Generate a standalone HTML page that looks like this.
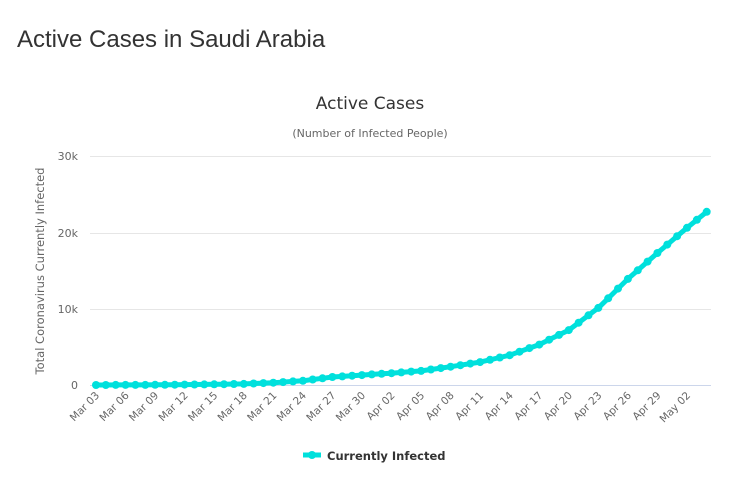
<!DOCTYPE html><html><head><style>
body{margin:0;background:#fff;width:731px;height:492px;overflow:hidden;font-family:"Liberation Sans",sans-serif}
h1{position:absolute;left:17px;top:26px;margin:0;font-weight:normal;font-size:24px;color:#333}
</style></head><body>
<h1>Active Cases in Saudi Arabia</h1>
<svg id="s" width="731" height="492" style="position:absolute;left:0;top:0;font-family:'DejaVu Sans',sans-serif">
<text x="370" y="109" text-anchor="middle" font-size="17" fill="#333">Active Cases</text>
<text x="370" y="137" text-anchor="middle" font-size="11" fill="#666">(Number of Infected People)</text>
<g stroke="#e6e6e6"><line x1="90" x2="711" y1="156.5" y2="156.5"/><line x1="90" x2="711" y1="233.5" y2="233.5"/><line x1="90" x2="711" y1="309.5" y2="309.5"/></g>
<line x1="90" x2="711" y1="385.5" y2="385.5" stroke="#ccd6eb"/>
<g font-size="11" fill="#666" text-anchor="end"><text x="78" y="160">30k</text><text x="78" y="237">20k</text><text x="78" y="313">10k</text><text x="78" y="389">0</text></g>
<text transform="translate(44,271) rotate(-90)" text-anchor="middle" font-size="11.5" fill="#666">Total Coronavirus Currently Infected</text>
<g id="lab" font-size="10.5" fill="#666"></g>
<polyline id="ln" fill="none" stroke="#00e0dc" stroke-width="5" stroke-linejoin="round"/>
<g id="dots" fill="#00e0dc"></g>
<line x1="303" x2="321" y1="455" y2="455" stroke="#00e0dc" stroke-width="5"/><circle cx="312" cy="455" r="4" fill="#00e0dc"/>
<text x="327" y="460" font-size="11.5" font-weight="bold" fill="#333">Currently Infected</text>
</svg>
<script>
var k=[[0,0],[6,20],[12,90],[15,150],[18,300],[21,550],[24,1050],[27,1300],[30,1550],[33,1850],[36,2400],[39,3000],[42,3900],[45,5300],[48,7200],[51,10100],[54,13900],[57,17300],[60,20600],[62,22700]];
function v(d){for(var i=0;i<k.length-1;i++)if(d<=k[i+1][0]){var a=k[i],b=k[i+1];return a[1]+(b[1]-a[1])*(d-a[0])/(b[0]-a[0]);}return 22700;}
var pts=[],dots="",lab="",m=["Mar 03","Mar 06","Mar 09","Mar 12","Mar 15","Mar 18","Mar 21","Mar 24","Mar 27","Mar 30","Apr 02","Apr 05","Apr 08","Apr 11","Apr 14","Apr 17","Apr 20","Apr 23","Apr 26","Apr 29","May 02"];
for(var d=0;d<=62;d++){var x=96+d*9.85,y=385-v(d)*0.00763;pts.push(x.toFixed(1)+","+y.toFixed(1));dots+='<circle cx="'+x.toFixed(1)+'" cy="'+y.toFixed(1)+'" r="4"/>';}
for(var i=0;i<m.length;i++){var x=96+i*3*9.85+4;lab+='<text text-anchor="end" transform="translate('+x+',396) rotate(-45)">'+m[i]+'</text>';}
document.getElementById("ln").setAttribute("points",pts.join(" "));
document.getElementById("dots").innerHTML=dots;document.getElementById("lab").innerHTML=lab;
</script>
</body></html>
